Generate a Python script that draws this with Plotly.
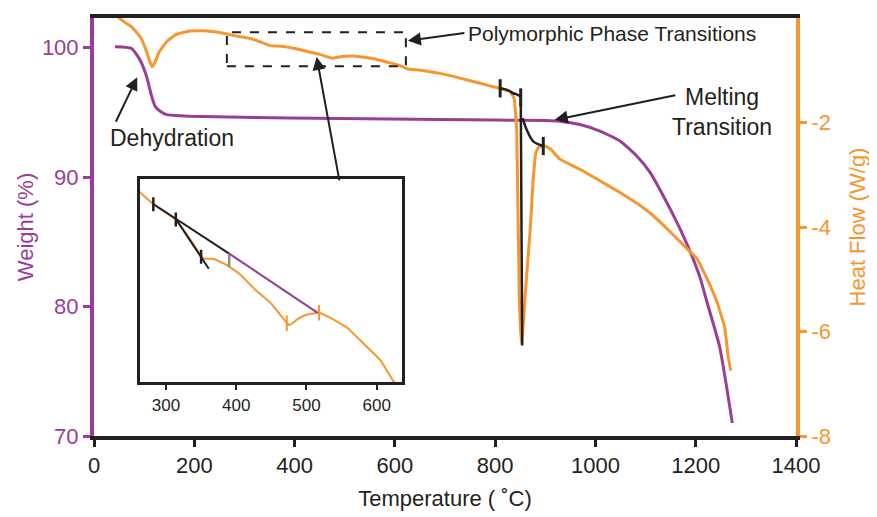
import plotly.graph_objects as go

# ---------------- data ----------------
# TGA weight curve
weight_T = [42, 75, 92, 105, 115, 122, 132, 145, 192, 391, 690, 800, 900, 929, 969,
            1009, 1049, 1082, 1109, 1135, 1162, 1189, 1209, 1222, 1248, 1273]
weight_pct = [100.07, 99.94, 99.04, 97.77, 96.24, 95.47, 95.09, 94.83, 94.71, 94.58,
              94.45, 94.41, 94.38, 94.33, 94.07, 93.56, 92.80, 91.65, 90.37, 88.58,
              86.54, 84.24, 82.20, 80.41, 76.84, 71.0]

# Heat flow, low-temperature part
hf_T_low = [48, 58, 75, 92, 104, 112, 116, 121, 130, 146, 165, 191, 217, 240]
hf_low = [0.02, -0.06, -0.17, -0.36, -0.62, -0.85, -0.93, -0.86, -0.65, -0.44,
          -0.31, -0.25, -0.245, -0.265]
# Heat flow, polymorphic region (also shown in the inset)
hf_T_mid = [263, 282, 314, 334, 353, 368, 382, 390, 406, 427, 449, 472, 476, 487,
            501, 518, 534, 558, 582, 606, 625]
hf_mid = [-0.300, -0.342, -0.397, -0.465, -0.534, -0.536, -0.552, -0.563, -0.592,
          -0.645, -0.692, -0.762, -0.770, -0.750, -0.733, -0.727, -0.745, -0.780,
          -0.838, -0.897, -0.973]
# Heat flow, high-temperature part (melting)
hf_T_high = [650, 690, 730, 770, 810, 830, 838, 843, 848, 852, 855, 860, 870, 876,
             881, 886, 896, 906, 912, 920, 929, 969, 1009, 1049, 1089, 1115, 1149,
             1182, 1202, 1222, 1242, 1258, 1265, 1270]
hf_high = [-1.00, -1.06, -1.15, -1.25, -1.35, -1.41, -1.55, -2.14, -5.29, -6.24,
           -6.0, -5.29, -4.03, -3.08, -2.58, -2.48, -2.44, -2.48, -2.52, -2.61,
           -2.70, -2.895, -3.115, -3.34, -3.59, -3.78, -4.09, -4.41, -4.60, -4.98,
           -5.42, -5.93, -6.50, -6.75]

# Onset construction lines (main plot, heat flow axis)
onset1_T = [810, 825, 836, 845, 850]
onset1_hf = [-1.346, -1.38, -1.44, -1.47, -1.50]
spike_T = [851, 854]
spike_hf = [-1.45, -6.27]
onset2_T = [855, 863, 876, 896]
onset2_hf = [-1.915, -2.14, -2.36, -2.45]
main_tick_T = [810, 851, 896]
main_tick_hf = [-1.346, -1.52, -2.45]

# Inset construction lines
inset_l1_T = [283, 390]
inset_l1_hf = [-0.343, -0.517]
inset_l2_T = [314, 361]
inset_l2_hf = [-0.394, -0.571]
inset_grey_T = [390, 390]
inset_grey_hf = [-0.517, -0.563]
inset_purple_T = [390, 516]
inset_purple_hf = [-0.517, -0.727]
inset_black_tick_T = [282, 314, 350]
inset_black_tick_hf = [-0.342, -0.396, -0.528]
inset_orange_tick_T = [472, 518]
inset_orange_tick_hf = [-0.764, -0.727]

x_ticks = [0, 200, 400, 600, 800, 1000, 1200, 1400]
y_ticks = [70, 80, 90, 100]
y2_ticks = [-8, -6, -4, -2]
y2_ticktext = ["-8", "-6", "-4", "-2"]
inset_ticks = [300, 400, 500, 600]

PURPLE = "#993d97"
ORANGE = "#f7962f"
DARK = "#231f20"
FONT = "Liberation Sans, Arial, sans-serif"

hf_T = hf_T_low + hf_T_mid + hf_T_high
hf = hf_low + hf_mid + hf_high

fig = go.Figure()

# main curves
fig.add_trace(go.Scatter(x=hf_T, y=hf, yaxis="y2", mode="lines",
                         line=dict(color=ORANGE, width=3, shape="spline", smoothing=0.3),
                         hoverinfo="skip"))
fig.add_trace(go.Scatter(x=weight_T, y=weight_pct, yaxis="y", mode="lines",
                         line=dict(color=PURPLE, width=3, shape="spline", smoothing=0.5),
                         hoverinfo="skip"))
fig.add_trace(go.Scatter(x=onset1_T, y=onset1_hf, yaxis="y2", mode="lines",
                         line=dict(color=DARK, width=2.5, shape="spline")))
fig.add_trace(go.Scatter(x=spike_T, y=spike_hf, yaxis="y2", mode="lines",
                         line=dict(color=DARK, width=2.5)))
fig.add_trace(go.Scatter(x=onset2_T, y=onset2_hf, yaxis="y2", mode="lines",
                         line=dict(color=DARK, width=2.5, shape="spline")))
fig.add_trace(go.Scatter(x=main_tick_T, y=main_tick_hf, yaxis="y2", mode="markers",
                         marker=dict(symbol="line-ns", size=13,
                                     line=dict(color=DARK, width=3))))

# inset traces
fig.add_trace(go.Scatter(x=hf_T, y=hf, xaxis="x3", yaxis="y3",
                         mode="lines",
                         line=dict(color=ORANGE, width=2, shape="spline", smoothing=0.3)))
fig.add_trace(go.Scatter(x=inset_l1_T, y=inset_l1_hf, xaxis="x3", yaxis="y3", mode="lines",
                         line=dict(color=DARK, width=2)))
fig.add_trace(go.Scatter(x=inset_l2_T, y=inset_l2_hf, xaxis="x3", yaxis="y3", mode="lines",
                         line=dict(color=DARK, width=2)))
fig.add_trace(go.Scatter(x=inset_grey_T, y=inset_grey_hf, xaxis="x3", yaxis="y3", mode="lines",
                         line=dict(color="#8a8a8a", width=2.5)))
fig.add_trace(go.Scatter(x=inset_purple_T, y=inset_purple_hf, xaxis="x3", yaxis="y3",
                         mode="lines", line=dict(color=PURPLE, width=2)))
fig.add_trace(go.Scatter(x=inset_black_tick_T, y=inset_black_tick_hf, xaxis="x3", yaxis="y3",
                         mode="markers",
                         marker=dict(symbol="line-ns", size=10, line=dict(color=DARK, width=2.5))))
fig.add_trace(go.Scatter(x=inset_orange_tick_T, y=inset_orange_tick_hf, xaxis="x3", yaxis="y3",
                         mode="markers",
                         marker=dict(symbol="line-ns", size=11, line=dict(color=ORANGE, width=2))))

# dashed rectangle around polymorphic region
fig.add_shape(type="rect", xref="x", yref="y2", x0=265, x1=622, y0=-0.923, y1=-0.271,
              line=dict(color=DARK, width=2, dash="dash"))

arrow = dict(showarrow=True, text="", arrowhead=2, arrowsize=1.3, arrowwidth=2,
             arrowcolor=DARK)
fig.add_annotation(x=626, y=-0.436, xref="x", yref="y2", ax=58, ay=-8, **arrow)
fig.add_annotation(x=444, y=-0.745, xref="x", yref="y2", ax=23, ay=125, **arrow)
fig.add_annotation(x=86, y=97.72, xref="x", yref="y", ax=-22, ay=46, **arrow)
fig.add_annotation(x=919, y=94.43, xref="x", yref="y", ax=122, ay=-25, **arrow)

txt = dict(showarrow=False, xref="paper", yref="paper", xanchor="center", yanchor="middle")
fig.add_annotation(x=0.1111, y=0.7133, text="Dehydration",
                   font=dict(family=FONT, size=23, color=DARK), **txt)
fig.add_annotation(x=0.7379, y=0.962, text="Polymorphic Phase Transitions",
                   font=dict(family=FONT, size=21, color=DARK), **txt)
fig.add_annotation(x=0.8946, y=0.775, text="Melting<br>Transition", align="center",
                   font=dict(family=FONT, size=23, color=DARK), **txt)

fig.update_layout(
    width=869, height=509,
    margin=dict(l=86, r=81, t=6, b=81),
    paper_bgcolor="white", plot_bgcolor="white",
    showlegend=False,
    font=dict(family=FONT, size=22, color=DARK),
    xaxis=dict(range=[0, 1400], tickvals=x_ticks, ticks="outside", ticklen=7, tickwidth=3,
               tickcolor=DARK, showline=True, linecolor=DARK, linewidth=4, mirror=True,
               showgrid=False, zeroline=False,
               tickfont=dict(family=FONT, size=22, color=DARK),
               title=dict(text="Temperature ( ˚C)", standoff=14,
                          font=dict(family=FONT, size=22, color=DARK))),
    yaxis=dict(range=[70, 102.3], tickvals=y_ticks, ticks="outside", ticklen=7, tickwidth=3,
               tickcolor=PURPLE, showline=True, linecolor=PURPLE, linewidth=4,
               showgrid=False, zeroline=False,
               tickfont=dict(family=FONT, size=22, color=PURPLE),
               title=dict(text="Weight (%)", standoff=3,
                          font=dict(family=FONT, size=22, color=PURPLE))),
    yaxis2=dict(range=[-8, 0], tickvals=y2_ticks, ticktext=y2_ticktext,
                overlaying="y", side="right",
                ticks="outside", ticklen=7, tickwidth=3, tickcolor=ORANGE,
                showline=True, linecolor=ORANGE, linewidth=4,
                showgrid=False, zeroline=False,
                tickfont=dict(family=FONT, size=22, color=ORANGE),
                title=dict(text="Heat Flow (W/g)", standoff=21,
                           font=dict(family=FONT, size=22, color=ORANGE))),
    xaxis3=dict(domain=[0.0655, 0.4387], anchor="y3", range=[263, 636], tickvals=inset_ticks,
                ticks="outside", ticklen=5, tickwidth=2, tickcolor=DARK,
                showline=True, linecolor=DARK, linewidth=2.5, mirror=True,
                showgrid=False, zeroline=False,
                tickfont=dict(family=FONT, size=17, color=DARK)),
    yaxis3=dict(domain=[0.128, 0.616], anchor="x3", range=[-0.974, -0.251],
                showticklabels=False, ticks="",
                showline=True, linecolor=DARK, linewidth=2.5, mirror=True,
                showgrid=False, zeroline=False),
)

fig.write_html("out.html")
